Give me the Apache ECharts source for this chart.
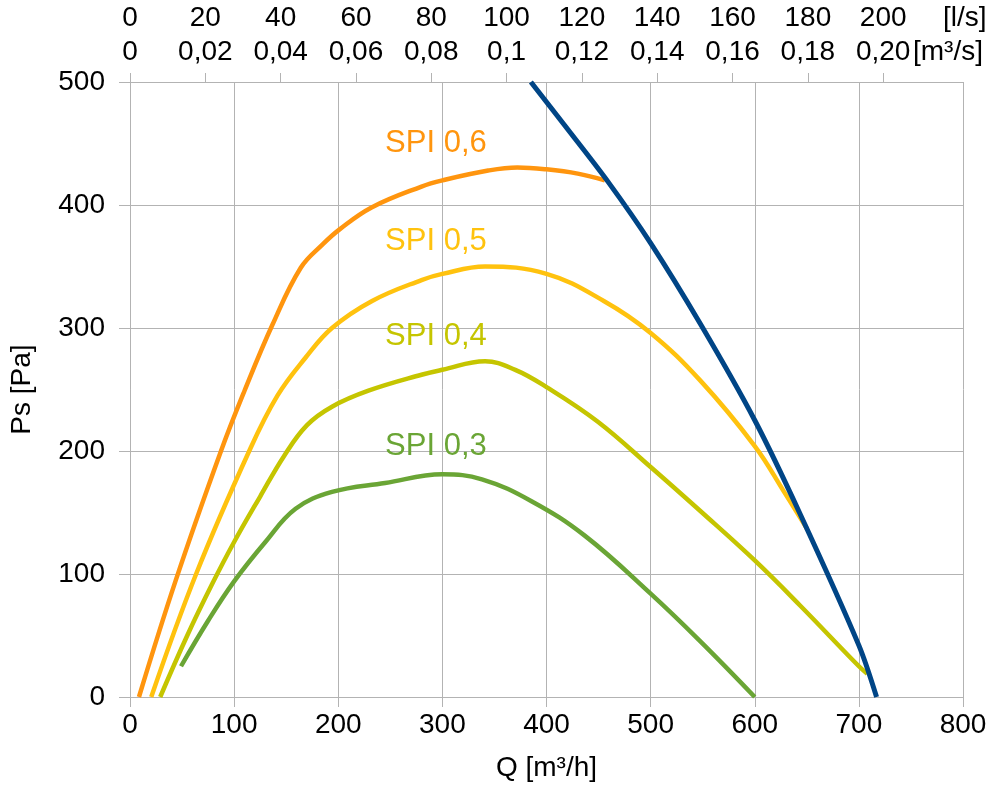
<!DOCTYPE html>
<html>
<head>
<meta charset="utf-8">
<script src="https://cdn.jsdelivr.net/npm/echarts@6/dist/echarts.min.js"></script>
<style>
html,body{margin:0;padding:0;background:#fff;}
#chart{width:995px;height:788px;}
</style>
</head>
<body>
<div id="chart"></div>
<script>
// ---- data ----
const spi06 = [[8.6,0],[44,95],[87.4,200],[110,249],[137,303],[164,349],[185,368],[201,380],[232,398],[280,415],[300,420],[344,428],[372,430.5],[400,429],[430,425.5],[456,420]];
const spi05 = [[20.4,0],[63.5,100],[114.5,200],[141.6,245],[168.7,276],[194,300],[232.5,322],[280,339],[300,344],[341,350],[400,344],[455,322],[500,296],[548,257],[600,204],[628,167],[650,137]];
const spi04 = [[29,0],[55,50],[79,92],[100,126],[125,163],[148,196],[170,221],[194,236],[229,249],[280,262],[300,266],[341,273],[370,266],[400,252],[449,224],[500,187],[548,151],[600,111],[644,74],[700,25],[708,19]];
const spi03 = [[49,25],[75,62],[100,94],[130,126],[159,153],[194,166.7],[245,174],[300,181],[338,177],[386,159],[437,131],[500,84],[548,45],[600,0]];
const maxCurve = [[385,500],[420,462],[459,419],[500,369],[548,303],[600,225],[644,148],[700,42],[717,0]];

const seriesNames = ['SPI 0,6','SPI 0,5','SPI 0,4','SPI 0,3'];
const labelCoords = [[245,450],[245,370],[245,293],[245,204]];

const lsTicks = [0,20,40,60,80,100,120,140,160,180,200];
const lsLabels = ['0','20','40','60','80','100','120','140','160','180','200'];
const m3sLabels = ['0','0,02','0,04','0,06','0,08','0,1','0,12','0,14','0,16','0,18','0,20'];

const FONT = 'Liberation Sans';
const GRAY = '#b3b3b3';
const colors = ['#ff950e','#ffc20e','#c5c500','#6aa535'];

const chart = echarts.init(document.getElementById('chart'), null, {renderer:'canvas'});

function spiSeries(i, data){
  return {
    type:'line', name:seriesNames[i], data:data, smooth:0.4, showSymbol:false, symbol:'none',
    lineStyle:{color:colors[i], width:4.5}, itemStyle:{color:colors[i]}, z:3,
    markPoint:{
      symbol:'circle', symbolSize:0, silent:true,
      data:[{coord:labelCoords[i], value:seriesNames[i]}],
      label:{show:true, position:'right', distance:0, formatter:seriesNames[i],
             color:colors[i], fontSize:31, fontFamily:FONT}
    }
  };
}

chart.setOption({
  animation:false,
  backgroundColor:'#fff',
  textStyle:{fontFamily:FONT},
  grid:{left:127, right:32, top:82, bottom:91, containLabel:false},
  xAxis:[
    {type:'value', position:'bottom', min:0, max:800, interval:100,
     axisLine:{show:true, lineStyle:{color:GRAY, width:1}},
     axisTick:{show:true, length:10, lineStyle:{color:GRAY}},
     axisLabel:{fontSize:28, color:'#000', margin:14, fontFamily:FONT},
     splitLine:{show:true, lineStyle:{color:GRAY, width:1}},
     name:'Q [m³/h]', nameLocation:'middle', nameGap:57,
     nameTextStyle:{fontSize:28, color:'#000', fontFamily:FONT}},
    {type:'value', position:'top', min:0, max:221.2, interval:20,
     axisLine:{show:true, lineStyle:{color:GRAY, width:1}},
     axisTick:{show:true, length:9, lineStyle:{color:GRAY}, customValues:lsTicks},
     axisLabel:{fontSize:28, color:'#000', margin:16, fontFamily:FONT, customValues:lsTicks,
       formatter:function(v){const k=lsTicks.indexOf(v); return k<0?'':m3sLabels[k];}},
     splitLine:{show:false}},
    {type:'value', position:'top', min:0, max:221.2, interval:20,
     axisLine:{show:false}, axisTick:{show:false},
     axisLabel:{fontSize:28, color:'#000', margin:50, fontFamily:FONT, customValues:lsTicks,
       formatter:function(v){const k=lsTicks.indexOf(v); return k<0?'':lsLabels[k];}},
     splitLine:{show:false}}
  ],
  yAxis:{type:'value', min:0, max:500, interval:100,
     axisLine:{show:true, lineStyle:{color:GRAY, width:1}},
     axisTick:{show:true, length:11, lineStyle:{color:GRAY}},
     axisLabel:{fontSize:28, color:'#000', margin:25, fontFamily:FONT},
     splitLine:{show:true, lineStyle:{color:GRAY, width:1}},
     name:'Ps [Pa]', nameLocation:'middle', nameGap:94, nameRotate:90,
     nameTextStyle:{fontSize:28, color:'#000', fontFamily:FONT}},
  graphic:[
    {type:'text', left:943, top:4, style:{text:'[l/s]', fontSize:28, fill:'#000', fontFamily:FONT}},
    {type:'text', left:913, top:38, style:{text:'[m³/s]', fontSize:28, fill:'#000', fontFamily:FONT}}
  ],
  series:[
    spiSeries(0, spi06),
    spiSeries(1, spi05),
    spiSeries(2, spi04),
    spiSeries(3, spi03),
    {type:'line', name:'max', data:maxCurve, smooth:0.3, showSymbol:false, symbol:'none',
     lineStyle:{color:'#004586', width:5}, z:4}
  ]
});
</script>
</body>
</html>
